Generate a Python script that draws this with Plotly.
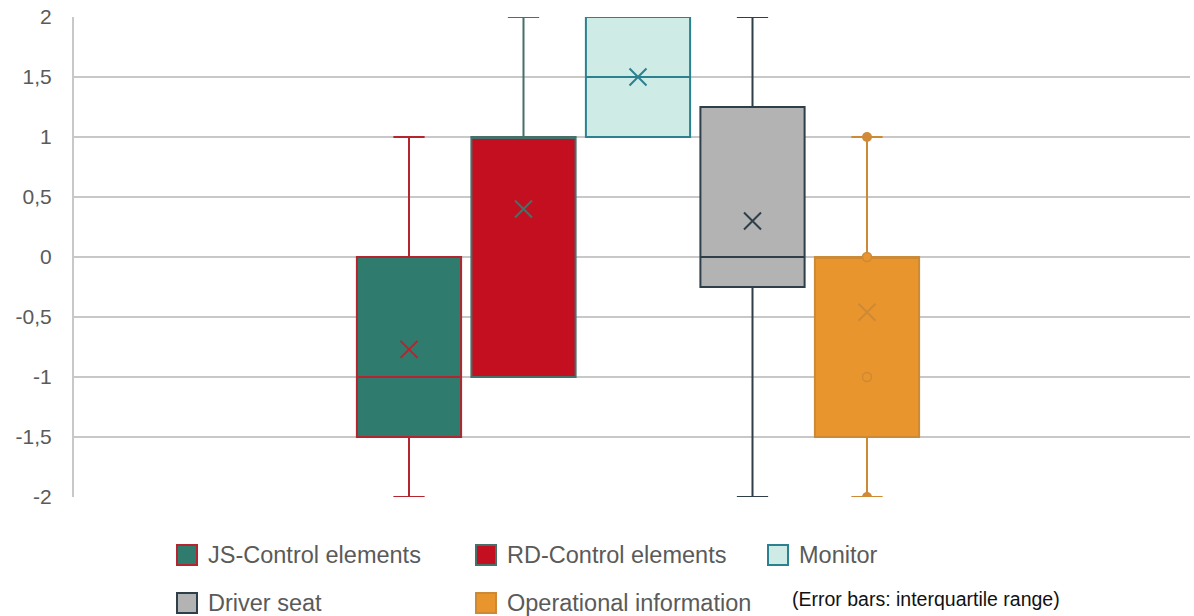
import plotly.graph_objects as go

# Box statistics per group (Likert-type difference scores)
categories = ["JS-Control elements", "RD-Control elements", "Monitor",
              "Driver seat", "Operational information"]
lower = [-2, -1, 1, -2, -2]
q1 = [-1.5, -1, 1, -0.25, -1.5]
median = [-1, 1, 1.5, 0, 0]
q3 = [0, 1, 2, 1.25, 0]
upper = [1, 2, 2, 2, 1]
means = [-0.77, 0.4, 1.5, 0.3, -0.46]

# Individual values shown on the last box
op_points_solid = [1, -2]
op_points_open = [0, -1]

y_ticks = [-2, -1.5, -1, -0.5, 0, 0.5, 1, 1.5, 2]
y_tick_text = [f"{v:g}".replace(".", ",") for v in y_ticks]

fills = ["#2f7b6d", "#c30f1f", "#cfebe6", "#b3b3b3", "#e9952d"]
edges = ["#b3252f", "#46706a", "#2c8190", "#2f3f4a", "#cd8a36"]

positions = list(range(len(categories)))

fig = go.Figure()
for i, name in enumerate(categories):
    fig.add_trace(go.Box(
        x=[positions[i]], name=name,
        q1=[q1[i]], median=[median[i]], q3=[q3[i]],
        lowerfence=[lower[i]], upperfence=[upper[i]],
        width=0.91, whiskerwidth=0.3,
        fillcolor=fills[i], line=dict(color=edges[i], width=2),
        boxpoints=False, showlegend=False, hoverinfo="skip",
    ))
    fig.add_trace(go.Scatter(
        x=[positions[i]], y=[means[i]], mode="markers",
        marker=dict(symbol="x-thin-open", size=17, color=edges[i],
                    line=dict(color=edges[i], width=2)),
        showlegend=False, hoverinfo="skip",
    ))

op = len(categories) - 1
fig.add_trace(go.Scatter(
    x=[positions[op]] * len(op_points_solid), y=op_points_solid, mode="markers",
    marker=dict(symbol="circle", size=10, color="#d08a38"),
    showlegend=False, hoverinfo="skip",
))
fig.add_trace(go.Scatter(
    x=[positions[op]] * len(op_points_open), y=op_points_open, mode="markers",
    marker=dict(symbol="circle", size=9, color=fills[op],
                line=dict(color=edges[op], width=1.5)),
    showlegend=False, hoverinfo="skip",
))

# Plot area in pixels
W, H = 1194, 616
L, R, T, B = 74, 4, 17, 119
pw, ph = W - L - R, H - T - B


def px(x):
    return (x - L) / pw


def py(y):
    return (H - B - y) / ph


# Hand-laid legend: three entries on the first row, two on the second
legend_slots = [(177, 555), (476, 555), (768, 555), (177, 603), (476, 603)]
sq = 20
shapes = []
annotations = []
for i, name in enumerate(categories):
    lx, ly = legend_slots[i]
    shapes.append(dict(
        type="rect", xref="paper", yref="paper",
        x0=px(lx), x1=px(lx + sq), y0=py(ly + sq / 2), y1=py(ly - sq / 2),
        fillcolor=fills[i], line=dict(color=edges[i], width=2),
    ))
    annotations.append(dict(
        xref="paper", yref="paper", x=px(lx + sq + 9), y=py(ly),
        xanchor="left", yanchor="middle", text=name, showarrow=False,
        font=dict(size=23.5, color="#5a5a5a", family="Liberation Sans, Arial, sans-serif"),
    ))

annotations.append(dict(
    xref="paper", yref="paper", x=px(790), y=py(599),
    xanchor="left", yanchor="middle", text="(Error bars: interquartile range)",
    showarrow=False,
    font=dict(size=19.5, color="#111111", family="Liberation Sans, Arial, sans-serif"),
))

step = 114.5
first_center = 409
fig.update_layout(
    width=W, height=H,
    margin=dict(l=L, r=R, t=T, b=B),
    paper_bgcolor="white", plot_bgcolor="white",
    font=dict(family="Liberation Sans, Arial, sans-serif", color="#5a5a5a"),
    shapes=shapes, annotations=annotations,
    xaxis=dict(
        range=[(L - first_center) / step, (W - R - first_center) / step],
        showgrid=False, zeroline=False, showticklabels=False,
        showline=False, fixedrange=True,
    ),
    yaxis=dict(
        range=[-2, 2], tickvals=y_ticks, ticktext=y_tick_text,
        showgrid=True, gridcolor="#c8c8c8", gridwidth=2,
        zeroline=True, zerolinecolor="#c8c8c8", zerolinewidth=2,
        showline=True, linecolor="#c8c8c8", linewidth=2,
        ticks="", ticklabelstandoff=16,
        tickfont=dict(size=21, color="#5a5a5a"),
        fixedrange=True,
    ),
    showlegend=False,
)

fig.write_html("out.html")
